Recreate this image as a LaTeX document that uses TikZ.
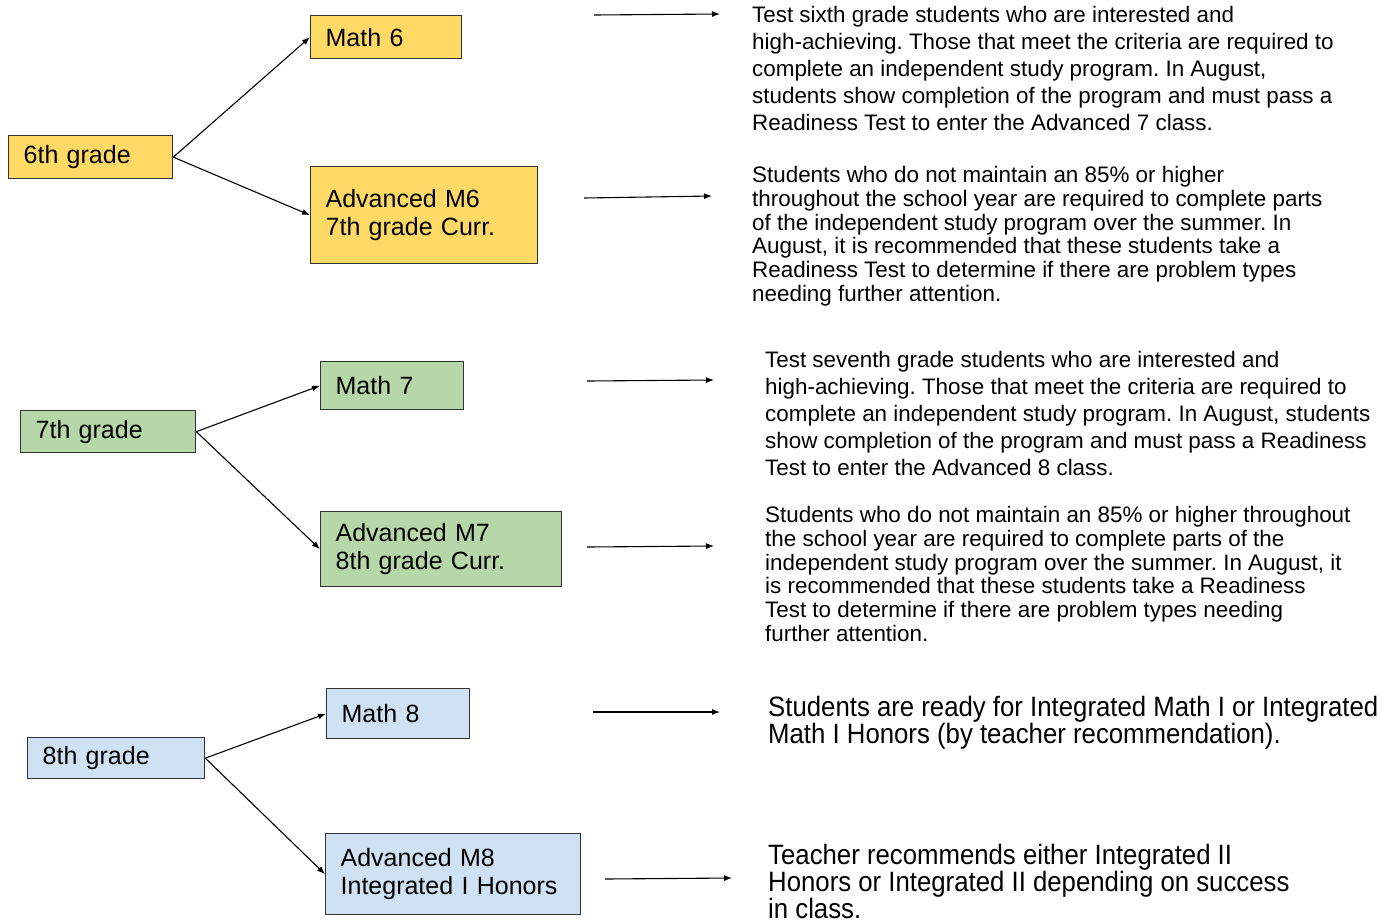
\documentclass[tikz,border=0pt]{standalone}
\usepackage{fontspec}
\setmainfont{Liberation Sans}
\newfontfamily\narrowfont[FakeStretch=0.92]{Liberation Sans}
\usetikzlibrary{arrows.meta}
\frenchspacing

\definecolor{sixfill}{HTML}{FFD966}
\definecolor{sevenfill}{HTML}{B6D7A8}
\definecolor{eightfill}{HTML}{CFE2F3}
\definecolor{boxline}{HTML}{333333}

\tikzset{
  course/.style={draw=boxline, line width=1.3pt, anchor=north west, align=left,
    inner xsep=15pt, inner ysep=0pt, font=\fontsize{25}{28}\selectfont},
  link/.style={line width=1.1pt, -{Latex[length=8pt,width=6pt]}},
  note/.style={anchor=north west, align=left, inner sep=0pt,
    font=\fontsize{22.4}{27}\selectfont},
  tight/.style={font=\fontsize{22.4}{23.8}\selectfont},
  big/.style={font=\narrowfont\fontsize{28}{26.5}\selectfont},
}

\begin{document}
\begin{tikzpicture}[x=1pt,y=-1pt]

  \useasboundingbox (0,0) rectangle (1381,922);

  % 6th grade
  \node[course, fill=sixfill, text width=134pt, minimum height=43pt] (g6) at (8,135) {6th grade};
  \node[course, fill=sixfill, text width=121pt, minimum height=43pt] (m6) at (310,15) {Math 6};
  \node[course, fill=sixfill, text width=197pt, minimum height=97pt] (adv6) at (310,166) {Advanced M6\\7th grade Curr.};
  \draw[link] (g6.east) -- (m6.west);
  \draw[link] (g6.east) -- (adv6.west);

  % 7th grade
  \node[course, fill=sevenfill, text width=145pt, minimum height=42pt] (g7) at (20,410) {7th grade};
  \node[course, fill=sevenfill, text width=113pt, minimum height=48pt] (m7) at (320,361) {Math 7};
  \node[course, fill=sevenfill, text width=211pt, minimum height=75pt] (adv7) at (320,511) {Advanced M7\\8th grade Curr.};
  \draw[link] (g7.east) -- (m7.west);
  \draw[link] (g7.east) -- (adv7.west);

  % 8th grade
  \node[course, fill=eightfill, text width=147pt, minimum height=41pt] (g8) at (27,737) {8th grade};
  \node[course, fill=eightfill, text width=113pt, minimum height=50pt] (m8) at (326,688) {Math 8};
  \node[course, fill=eightfill, text width=225pt, minimum height=81pt] (adv8) at (325,833) {Advanced M8\\Integrated I Honors};
  \draw[link] (g8.east) -- (m8.west);
  \draw[link] (g8.east) -- (adv8.west);

  % Notes
  \node[note] (test6) at (752,6) {Test sixth grade students who are interested and\\
    high-achieving. Those that meet the criteria are required to\\
    complete an independent study program. In August,\\
    students show completion of the program and must pass a\\
    Readiness Test to enter the Advanced 7 class.};
  \node[note, tight] (keep6) at (752,166) {Students who do not maintain an 85\% or higher\\
    throughout the school year are required to complete parts\\
    of the independent study program over the summer. In\\
    August, it is recommended that these students take a\\
    Readiness Test to determine if there are problem types\\
    needing further attention.};
  \node[note] (test7) at (765,351) {Test seventh grade students who are interested and\\
    high-achieving. Those that meet the criteria are required to\\
    complete an independent study program. In August, students\\
    show completion of the program and must pass a Readiness\\
    Test to enter the Advanced 8 class.};
  \node[note, tight] (keep7) at (765,506) {Students who do not maintain an 85\% or higher throughout\\
    the school year are required to complete parts of the\\
    independent study program over the summer. In August, it\\
    is recommended that these students take a Readiness\\
    Test to determine if there are problem types needing\\
    further attention.};
  \node[note, big] (ready8) at (768,696) {Students are ready for Integrated Math I or Integrated\\
    Math I Honors (by teacher recommendation).};
  \node[note, big, font=\narrowfont\fontsize{28}{26}\selectfont] (honors8) at (768,844) {Teacher recommends either Integrated II\\
    Honors or Integrated II depending on success\\
    in class.};

  % Arrows to the notes
  \coordinate (s1) at (594,15);  \coordinate (e1) at (720,14);
  \coordinate (s2) at (584,198); \coordinate (e2) at (712,196);
  \coordinate (s3) at (587,381); \coordinate (e3) at (714,380);
  \coordinate (s4) at (587,547); \coordinate (e4) at (714,546);
  \coordinate (s5) at (593,712); \coordinate (e5) at (720,712);
  \coordinate (s6) at (605,879); \coordinate (e6) at (732,878);
  \draw[link] (s1) -- (e1);
  \draw[link] (s2) -- (e2);
  \draw[link] (s3) -- (e3);
  \draw[link] (s4) -- (e4);
  \draw[link] (s5) -- (e5);
  \draw[link] (s6) -- (e6);

\end{tikzpicture}
\end{document}
